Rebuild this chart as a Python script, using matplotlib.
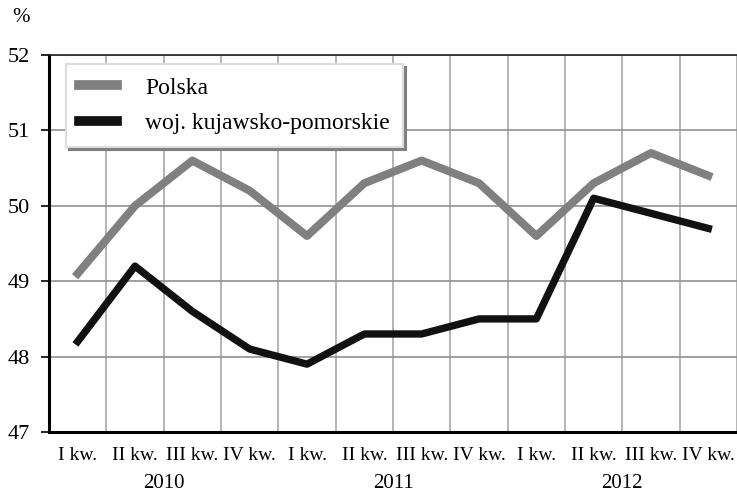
import matplotlib
matplotlib.use("Agg")
import matplotlib.pyplot as plt
import numpy as np

quarters = ["I kw.", "II kw.", "III kw.", "IV kw."] * 3
years = ["2010", "2011", "2012"]
polska = [49.1, 50.0, 50.6, 50.2, 49.6, 50.3, 50.6, 50.3, 49.6, 50.3, 50.7, 50.4]
kujawsko = [48.2, 49.2, 48.6, 48.1, 47.9, 48.3, 48.3, 48.5, 48.5, 50.1, 49.9, 49.7]

plt.rcParams["font.family"] = ["Liberation Serif", "DejaVu Serif"]

fig = plt.figure(figsize=(7.37, 4.95), dpi=100)
ax = fig.add_axes([49 / 737, 1 - 432 / 495, 688 / 737, (432 - 55) / 495])

x = np.arange(len(quarters))
ax.plot(x, polska, color="#808080", linewidth=5.8, label="Polska", zorder=3)
ax.plot(x, kujawsko, color="#111111", linewidth=5.3,
        label="woj. kujawsko-pomorskie", zorder=4)

ax.set_xlim(-0.5, len(quarters) - 0.5)
ax.set_ylim(47, 52)

# grid: vertical lines between quarters, horizontal at each integer
ax.set_xticks(np.arange(-0.5, len(quarters)), minor=True)
ax.grid(True, which="minor", axis="x", color="#a8a8a8", linewidth=1.2)
ax.set_yticks(range(47, 53))
ax.grid(True, which="major", axis="y", color="#909090", linewidth=1.2)
ax.set_axisbelow(True)

ax.set_xticks(x)
ax.set_xticklabels(quarters, fontsize=14)
ax.tick_params(axis="x", which="both", length=0, pad=11)
ax.tick_params(axis="y", length=6, width=1.2, pad=8, labelsize=16)

for s in ["left", "bottom"]:
    ax.spines[s].set_linewidth(2.2)
    ax.spines[s].set_color("black")
ax.spines["top"].set_linewidth(1.2)
ax.spines["top"].set_color("#222222")
ax.spines["right"].set_visible(False)

for i, yr in enumerate(years):
    ax.text(i * 4 + 1.5, -0.137, yr, transform=ax.get_xaxis_transform(),
            ha="center", va="center", fontsize=15)

fig.text(12 / 737, 1 - 18 / 495, "%", ha="left", va="center", fontsize=15)

leg = ax.legend(loc="upper left", bbox_to_anchor=(0.0247, 0.976), fontsize=17,
                handlelength=1.6, handletextpad=1.2, borderpad=0.55,
                borderaxespad=0, labelspacing=0.6, fancybox=False,
                framealpha=1, edgecolor="#dddddd",
                shadow={"color": "#7f7f7f", "alpha": 1})
leg.get_frame().set_linewidth(1.5)
for h in leg.get_lines():
    h.set_linewidth(7)
leg.set_zorder(10)

fig.savefig("out.png", dpi=100)
